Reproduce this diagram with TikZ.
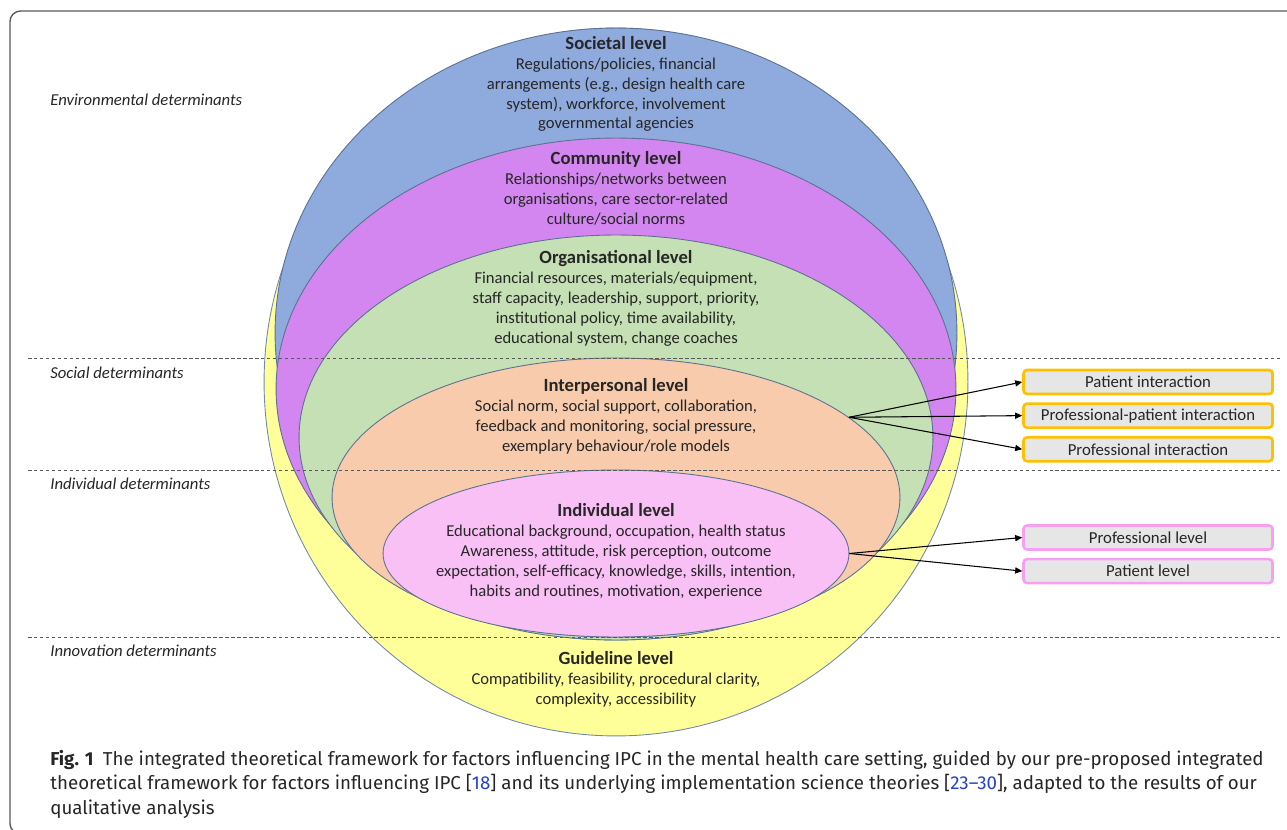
\documentclass[tikz,border=0pt]{standalone}
\usepackage{fontspec}
\setmainfont{Carlito}
\newfontfamily\capfont{Fira Sans}
\usepackage{xcolor}
\definecolor{socFill}   {HTML}{8FAADC}
\definecolor{comFill}   {HTML}{D385F0}
\definecolor{orgFill}   {HTML}{C5E0B4}
\definecolor{interFill} {HTML}{F8CBAD}
\definecolor{indivFill} {HTML}{F9C0F6}
\definecolor{guideFill} {HTML}{FFFF99}
\definecolor{rimLine}   {HTML}{5B7191}
\definecolor{boxBack}   {HTML}{E6E6E6}
\definecolor{interRim}  {HTML}{FFC000}
\definecolor{indivRim}  {HTML}{F7A0F2}
\definecolor{refBlue}   {HTML}{2342C8}
\usetikzlibrary{arrows.meta, positioning, calc, shapes.geometric}
\newcommand{\lvtitle}[1]{{\fontsize{10.6}{11.34}\selectfont\bfseries #1}}
\tikzset{
    level/.style={ellipse, draw=rimLine, line width=0.5pt, inner sep=0pt},
    leveltext/.style={align=center, inner sep=0pt, text=black!85,
                      font=\fontsize{9.45}{11.34}\selectfont},
    determ/.style={anchor=west, inner sep=0pt, text=black!85,
                   font=\fontsize{9.5}{10}\selectfont\itshape},
    divider/.style={dash pattern=on 2pt off 1.4pt, black!65, line width=0.5pt},
    outbox/.style={draw, rounded corners=2pt, fill=boxBack, line width=1.5pt,
                   minimum width=4.98cm, minimum height=0.48cm, inner sep=0pt,
                   text=black!85, font=\fontsize{9.55}{10}\selectfont},
    ibox/.style={outbox, draw=interRim},
    pbox/.style={outbox, draw=indivRim},
    link/.style={-{Triangle[length=4pt, width=3.5pt]}, line width=0.6pt},
}

\begin{document}
\begin{tikzpicture}[x=0.02cm, y=-0.02cm]
    \useasboundingbox (0,0) rectangle (1287,830);
    % outer frame
    \draw[black!65, line width=0.8pt, rounded corners=6pt]
        (1300,834) -- (10,834) -- (10,11) -- (1300,11);
    % nested levels, outermost first
    \node[level, draw=socFill!80!black, fill=guideFill, minimum width=14.08cm, minimum height=14.16cm] (guide) at (616,382) {};
    \node[level, fill=socFill, minimum width=13.64cm, minimum height=12.2cm] (soc) at (616,333) {};
    \node[level, fill=comFill, minimum width=13.6cm, minimum height=10.04cm] (com) at (616,389) {};
    \node[level, fill=orgFill, minimum width=12.68cm, minimum height=8.1cm] (org) at (616,437.5) {};
    \node[level, fill=interFill, minimum width=11.36cm, minimum height=5.58cm] (inter) at (616,497.5) {};
    \node[level, fill=indivFill, minimum width=9.32cm, minimum height=3.34cm] (indiv) at (616,553.5) {};
    % dashed dividers
    \draw[divider] (28,358) -- (1280,358);
    \draw[divider] (28,470) -- (1280,470);
    \draw[divider] (28,637) -- (1280,637);
    % determinant labels
    \node[determ] (envL) at (50,100) {Environmental determinants};
    \node[determ] (socL) at (50,373) {Social determinants};
    \node[determ] (indL) at (50,484) {Individual determinants};
    \node[determ] (innL) at (50,651) {Innovation determinants};
    % level texts
    \node[leveltext] (socT) at (616,84) {\lvtitle{Societal level}\\
        Regulations/policies, financial\\
        arrangements (e.g., design health care\\
        system), workforce, involvement\\
        governmental agencies};
    \node[leveltext] (comT) at (616,188.5) {\lvtitle{Community level}\\
        Relationships/networks between\\
        organisations, care sector-related\\
        culture/social norms};
    \node[leveltext] (orgT) at (616,298.5) {\lvtitle{Organisational level}\\
        Financial resources, materials/equipment,\\
        staff capacity, leadership, support, priority,\\
        institutional policy, time availability,\\
        educational system, change coaches};
    \node[leveltext] (interT) at (616,416) {\lvtitle{Interpersonal level}\\
        Social norm, social support, collaboration,\\
        feedback and monitoring, social pressure,\\
        exemplary behaviour/role models};
    \node[leveltext] (indivT) at (616,551.5) {\lvtitle{Individual level}\\
        Educational background, occupation, health status\\
        Awareness, attitude, risk perception, outcome\\
        expectation, self-efficacy, knowledge, skills, intention,\\
        habits and routines, motivation, experience};
    \node[leveltext] (guideT) at (616,679.5) {\lvtitle{Guideline level}\\
        Compatibility, feasibility, procedural clarity,\\
        complexity, accessibility};
    % outcome boxes
    \node[ibox] (pint) at (1148,382) {Patient interaction};
    \node[ibox, below=0.14cm of pint] (ppint) {Professional-patient interaction};
    \node[ibox, below=0.14cm of ppint] (print) {Professional interaction};
    \node[pbox] (prlev) at (1148,537.5) {Professional level};
    \node[pbox, below=0.14cm of prlev] (palev) {Patient level};
    % arrows
    \draw[link] (inter.19) -- (pint.west);
    \draw[link] (inter.19) -- (ppint.west);
    \draw[link] (inter.19) -- (print.west);
    \draw[link] (indiv.east) -- (prlev.west);
    \draw[link] (indiv.east) -- (palev.west);
    % caption
    \node[anchor=north west, inner sep=0pt, align=left, text=black!85,
          font=\capfont\fontsize{10.65}{13.9}\selectfont] (cap) at (50,750)
        {\textbf{Fig. 1}\enspace The integrated theoretical framework for factors influencing IPC in the mental health care setting, guided by our pre-proposed integrated\\
         theoretical framework for factors influencing IPC [\textcolor{refBlue}{18}] and its underlying implementation science theories [\textcolor{refBlue}{23–30}], adapted to the results of our\\
         qualitative analysis};
\end{tikzpicture}
\end{document}
